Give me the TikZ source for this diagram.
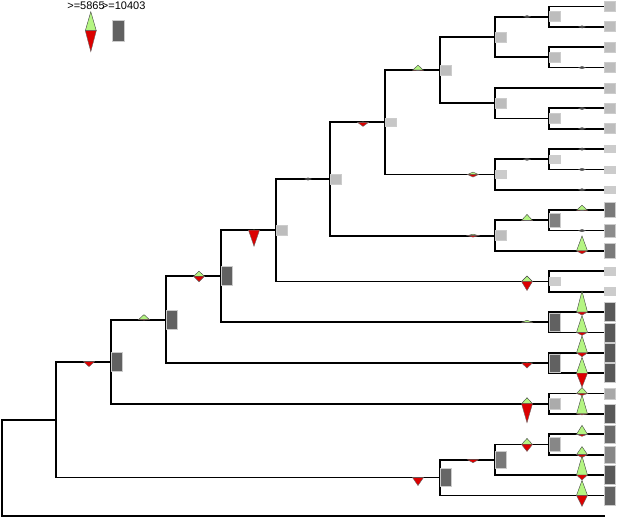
\documentclass[tikz,border=0pt]{standalone}
\usepackage{fontspec}
\setmainfont{Liberation Sans}
\usetikzlibrary{calc}
\definecolor{gainc}{RGB}{180,245,130}
\definecolor{lossc}{RGB}{220,0,0}
\newcommand{\gainloss}[3]{%
  \filldraw[gainmark] ($(#1)+(-27.5,0)$) -- ++(5.5,-#2) -- ++(5.5,#2) -- cycle;
  \filldraw[lossmark] ($(#1)+(-27.5,0)$) -- ++(5.5,#3) -- ++(5.5,-#3) -- cycle;}
\newcommand{\tinymark}[1]{\filldraw[tickmark] ($(#1)+(-25.5,0)$) -- ++(3.5,-1.2) -- ++(3.5,1.2) -- ++(-3.5,1.2) -- cycle;}
\newcommand{\nodebox}[3]{\filldraw[statebox, fill=#2] ($(#1)+(0.5,-#3/2)$) rectangle ++(11,#3);}
\begin{document}
\begin{tikzpicture}[x=1pt,y=-1pt,
    branch/.style={line width=1.8pt, line join=miter},
    gainmark/.style={fill=gainc, draw=black!75, line width=0.4pt},
    lossmark/.style={fill=lossc, draw=black!60, line width=0.4pt},
    tickmark/.style={fill=black!70, draw=black!70, line width=0.3pt},
    statebox/.style={draw=black!20, line width=0.8pt},
    keylabel/.style={anchor=base, inner sep=0pt, font=\fontsize{11}{13}\selectfont}]
    \useasboundingbox (0,0) rectangle (617,518);
    \coordinate (t0) at (604,6.5);
    \coordinate (t1) at (604,26.9);
    \coordinate (t2) at (604,47.2);
    \coordinate (t3) at (604,67.6);
    \coordinate (t4) at (604,88.0);
    \coordinate (t5) at (604,108.4);
    \coordinate (t6) at (604,128.7);
    \coordinate (t7) at (604,149.1);
    \coordinate (t8) at (604,169.5);
    \coordinate (t9) at (604,189.8);
    \coordinate (t10) at (604,210.2);
    \coordinate (t11) at (604,230.6);
    \coordinate (t12) at (604,250.9);
    \coordinate (t13) at (604,271.3);
    \coordinate (t14) at (604,291.7);
    \coordinate (t15) at (604,312.1);
    \coordinate (t16) at (604,332.4);
    \coordinate (t17) at (604,352.8);
    \coordinate (t18) at (604,373.2);
    \coordinate (t19) at (604,393.5);
    \coordinate (t20) at (604,413.9);
    \coordinate (t21) at (604,434.3);
    \coordinate (t22) at (604,454.6);
    \coordinate (t23) at (604,475.0);
    \coordinate (t24) at (604,495.4);
    \coordinate (t25) at (605,515.8);
    \coordinate (p01) at (549,16.7);
    \coordinate (p23) at (549,57.4);
    \coordinate (p56) at (549,118.55);
    \coordinate (p78) at (549,159.3);
    \coordinate (p1011) at (549,220.4);
    \coordinate (p1314) at (549,281.5);
    \coordinate (p1516) at (549,322.25);
    \coordinate (p1718) at (549,363.0);
    \coordinate (p1920) at (549,403.7);
    \coordinate (p2122) at (549,444.45);
    \coordinate (k) at (495,37.05);
    \coordinate (l) at (495,103.3);
    \coordinate (j) at (495,174.55);
    \coordinate (h) at (495,235.65);
    \coordinate (n) at (495,459.7);
    \coordinate (i) at (440,70.2);
    \coordinate (m) at (440,477.55);
    \coordinate (g) at (385,122.4);
    \coordinate (f) at (330,179.0);
    \coordinate (e) at (276,230.25);
    \coordinate (d) at (221,276.25);
    \coordinate (c) at (166,319.6);
    \coordinate (b) at (111,361.65);
    \coordinate (a) at (56,419.6);
    \coordinate (r) at (2,467.7);
    \draw[branch] (t0) -| (p01) |- (t1);
    \draw[branch] (t2) -| (p23) |- (t3);
    \draw[branch] (p01) -| (k) |- (p23);
    \draw[branch] (t5) -| (p56) |- (t6);
    \draw[branch] (t4) -| (l) |- (p56);
    \draw[branch] (k) -| (i) |- (l);
    \draw[branch] (t7) -| (p78) |- (t8);
    \draw[branch] (p78) -| (j) |- (t9);
    \draw[branch] (i) -| (g) |- (j);
    \draw[branch] (t10) -| (p1011) |- (t11);
    \draw[branch] (p1011) -| (h) |- (t12);
    \draw[branch] (g) -| (f) |- (h);
    \draw[branch] (t13) -| (p1314) |- (t14);
    \draw[branch] (f) -| (e) |- (p1314);
    \draw[branch] (t15) -| (p1516) |- (t16);
    \draw[branch] (e) -| (d) |- (p1516);
    \draw[branch] (t17) -| (p1718) |- (t18);
    \draw[branch] (d) -| (c) |- (p1718);
    \draw[branch] (t19) -| (p1920) |- (t20);
    \draw[branch] (c) -| (b) |- (p1920);
    \draw[branch] (t21) -| (p2122) |- (t22);
    \draw[branch] (p2122) -| (n) |- (t23);
    \draw[branch] (n) -| (m) |- (t24);
    \draw[branch] (b) -| (a) |- (m);
    \draw[branch] (a) -| (r) |- (t25);
    \nodebox{t0}{black!26}{10}
    \nodebox{t1}{black!26}{10}
    \nodebox{t2}{black!26}{10}
    \nodebox{t3}{black!26}{10}
    \nodebox{t4}{black!26}{10}
    \nodebox{t5}{black!26}{10}
    \nodebox{t6}{black!26}{10}
    \nodebox{t7}{black!20}{7}
    \nodebox{t8}{black!20}{7}
    \nodebox{t9}{black!20}{7}
    \nodebox{t10}{black!52}{15}
    \nodebox{t11}{black!45}{13}
    \nodebox{t12}{black!52}{15}
    \nodebox{t13}{black!20}{8}
    \nodebox{t14}{black!20}{8}
    \nodebox{t15}{black!65}{19}
    \nodebox{t16}{black!65}{19}
    \nodebox{t17}{black!65}{19}
    \nodebox{t18}{black!65}{19}
    \nodebox{t19}{black!34}{11}
    \nodebox{t20}{black!65}{19}
    \nodebox{t21}{black!58}{18}
    \nodebox{t22}{black!47}{17}
    \nodebox{t23}{black!65}{19}
    \nodebox{t24}{black!61}{19}
    \nodebox{p01}{black!26}{10}
    \nodebox{p23}{black!26}{10}
    \nodebox{p56}{black!26}{10}
    \nodebox{p78}{black!20}{8}
    \nodebox{p1011}{black!50}{14}
    \nodebox{p1314}{black!20}{8}
    \nodebox{p1516}{black!62}{18}
    \nodebox{p1718}{black!62}{18}
    \nodebox{p1920}{black!33}{11}
    \nodebox{p2122}{black!47}{14}
    \nodebox{k}{black!26}{10}
    \nodebox{l}{black!26}{10}
    \nodebox{j}{black!20}{8}
    \nodebox{h}{black!26}{10}
    \nodebox{n}{black!53}{17}
    \nodebox{i}{black!26}{10}
    \nodebox{m}{black!60}{18}
    \nodebox{g}{black!22}{8}
    \nodebox{f}{black!26}{10}
    \nodebox{e}{black!26}{10}
    \nodebox{d}{black!62}{19}
    \nodebox{c}{black!62}{19}
    \nodebox{b}{black!62}{19}
    \tinymark{t1}
    \tinymark{t3}
    \tinymark{t5}
    \tinymark{t6}
    \tinymark{t7}
    \tinymark{t8}
    \tinymark{t9}
    \tinymark{t11}
    \tinymark{p01}
    \tinymark{p78}
    \tinymark{f}
    \gainloss{t10}{5}{0.5}
    \gainloss{t12}{15}{3}
    \gainloss{t15}{21}{3}
    \gainloss{t16}{17}{3}
    \gainloss{t17}{17}{4}
    \gainloss{t18}{16}{14}
    \gainloss{t19}{6}{2}
    \gainloss{t20}{19}{1}
    \gainloss{t21}{9}{2}
    \gainloss{t22}{8}{3}
    \gainloss{t23}{19}{5}
    \gainloss{t24}{15}{11}
    \gainloss{p1011}{6}{0.3}
    \gainloss{p1314}{5.5}{9}
    \gainloss{p1516}{2}{0.5}
    \gainloss{p1718}{0.3}{5}
    \gainloss{p1920}{6}{19}
    \gainloss{p2122}{6}{7}
    \gainloss{j}{2.5}{2.5}
    \gainloss{h}{1.5}{1.5}
    \gainloss{n}{0.5}{3}
    \gainloss{i}{5}{0.5}
    \gainloss{m}{0.3}{8}
    \gainloss{g}{0.5}{4}
    \gainloss{e}{0.3}{16}
    \gainloss{d}{5}{5.5}
    \gainloss{c}{5}{0.5}
    \gainloss{b}{0.3}{5}
    \filldraw[gainmark] (85.3,30.7) -- (90.8,11.7) -- (96.3,30.7) -- cycle;
    \filldraw[lossmark] (85.3,30.7) -- (90.8,51.7) -- (96.3,30.7) -- cycle;
    \filldraw[statebox, fill=black!62] (112.7,20.7) rectangle (124,41.7);
    \node[keylabel] (gainkey) at (86,10) {>=5865};
    \node[keylabel] (boxkey) at (123.7,10) {>=10403};
\end{tikzpicture}
\end{document}
